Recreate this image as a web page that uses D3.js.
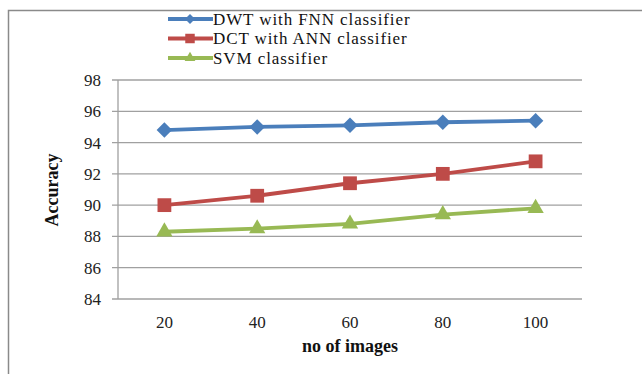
<!DOCTYPE html>
<html>
<head>
<meta charset="utf-8">
<script src="https://cdn.jsdelivr.net/npm/d3@7"></script>
<style>
  html, body { margin: 0; padding: 0; background: #fff; }
  svg { display: block; }
</style>
</head>
<body>
<svg id="chart" width="642" height="374"></svg>
<script>
// Accuracy vs number of images for three classifiers
const categories = [20, 40, 60, 80, 100];
const dwtFnn = [94.8, 95.0, 95.1, 95.3, 95.4];
const dctAnn = [90.0, 90.6, 91.4, 92.0, 92.8];
const svm = [88.3, 88.5, 88.8, 89.4, 89.8];
const yTicks = [84, 86, 88, 90, 92, 94, 96, 98];
const seriesNames = ["DWT with FNN classifier", "DCT with ANN classifier", "SVM classifier"];

// diamond drawn as a square turned 45 degrees
const diamond = {
  draw(ctx, size) {
    const r = Math.sqrt(size / 2);
    ctx.moveTo(0, -r); ctx.lineTo(r, 0); ctx.lineTo(0, r); ctx.lineTo(-r, 0); ctx.closePath();
  }
};

const series = [
  { name: seriesNames[0], values: dwtFnn, color: "#4A7EBB", marker: diamond, size: 120, legendSize: 50 },
  { name: seriesNames[1], values: dctAnn, color: "#BE4B48", marker: d3.symbolSquare, size: 190, legendSize: 90 },
  { name: seriesNames[2], values: svm, color: "#98B954", marker: d3.symbolTriangle, size: 115, legendSize: 50 }
];

const svg = d3.select("#chart");
const font = "Liberation Serif, serif";

// outer frame (top and left edges visible)
svg.append("path")
  .attr("d", "M8.5,374 V10.5 H642")
  .attr("fill", "none").attr("stroke", "#8a8a8a").attr("stroke-width", 1.5);

const plot = { left: 118, right: 582, top: 80, bottom: 299 };

const x = d3.scaleBand().domain(categories).range([plot.left, plot.right]);
const y = d3.scaleLinear().domain([84, 98]).range([plot.bottom, plot.top]);
const cx = c => x(c) + x.bandwidth() / 2;

// horizontal gridlines with short ticks left of the axis
svg.append("g").selectAll("line").data(yTicks).join("line")
  .attr("x1", plot.left - 6).attr("x2", plot.right)
  .attr("y1", d => y(d)).attr("y2", d => y(d))
  .attr("stroke", "#a0a0a0").attr("stroke-width", 1.3);

// y axis line
svg.append("line")
  .attr("x1", plot.left).attr("x2", plot.left)
  .attr("y1", plot.top).attr("y2", plot.bottom)
  .attr("stroke", "#a0a0a0").attr("stroke-width", 1.3);

// y tick labels
svg.append("g").selectAll("text").data(yTicks).join("text")
  .attr("x", 101).attr("y", d => y(d))
  .attr("dy", "0.35em").attr("text-anchor", "end")
  .attr("font-family", font).attr("font-size", 17).attr("fill", "#222")
  .text(d => d);

// x tick labels
svg.append("g").selectAll("text").data(categories).join("text")
  .attr("x", d => cx(d)).attr("y", 328)
  .attr("text-anchor", "middle")
  .attr("font-family", font).attr("font-size", 17).attr("fill", "#222")
  .text(d => d);

// axis titles
svg.append("text")
  .attr("x", 350).attr("y", 352).attr("text-anchor", "middle")
  .attr("font-family", font).attr("font-size", 18).attr("font-weight", "bold").attr("fill", "#111")
  .text("no of images");

svg.append("text")
  .attr("transform", "translate(58,190) rotate(-90)").attr("text-anchor", "middle")
  .attr("font-family", font).attr("font-size", 18).attr("font-weight", "bold").attr("fill", "#111")
  .text("Accuracy");

// series lines and markers
const line = d3.line()
  .x((d, i) => cx(categories[i]))
  .y(d => y(d));

series.forEach(s => {
  const g = svg.append("g");
  g.append("path").datum(s.values)
    .attr("d", line).attr("fill", "none")
    .attr("stroke", s.color).attr("stroke-width", 3.8).attr("stroke-linejoin", "round");
  g.selectAll("path.m").data(s.values).join("path").attr("class", "m")
    .attr("transform", (d, i) => `translate(${cx(categories[i])},${y(d)})`)
    .attr("d", d3.symbol().type(s.marker).size(s.size))
    .attr("fill", s.color);
});

// legend
const legendRows = [19, 38.5, 58];
series.forEach((s, i) => {
  const ly = legendRows[i];
  svg.append("line")
    .attr("x1", 168).attr("x2", 213).attr("y1", ly).attr("y2", ly)
    .attr("stroke", s.color).attr("stroke-width", 3.8);
  svg.append("path")
    .attr("transform", `translate(190,${ly})`)
    .attr("d", d3.symbol().type(s.marker).size(s.legendSize))
    .attr("fill", s.color);
  svg.append("text")
    .attr("x", 213).attr("y", ly).attr("dy", "0.35em")
    .attr("font-family", font).attr("font-size", 17).attr("letter-spacing", 0.9)
    .attr("fill", "#111")
    .text(s.name);
});
</script>
</body>
</html>
